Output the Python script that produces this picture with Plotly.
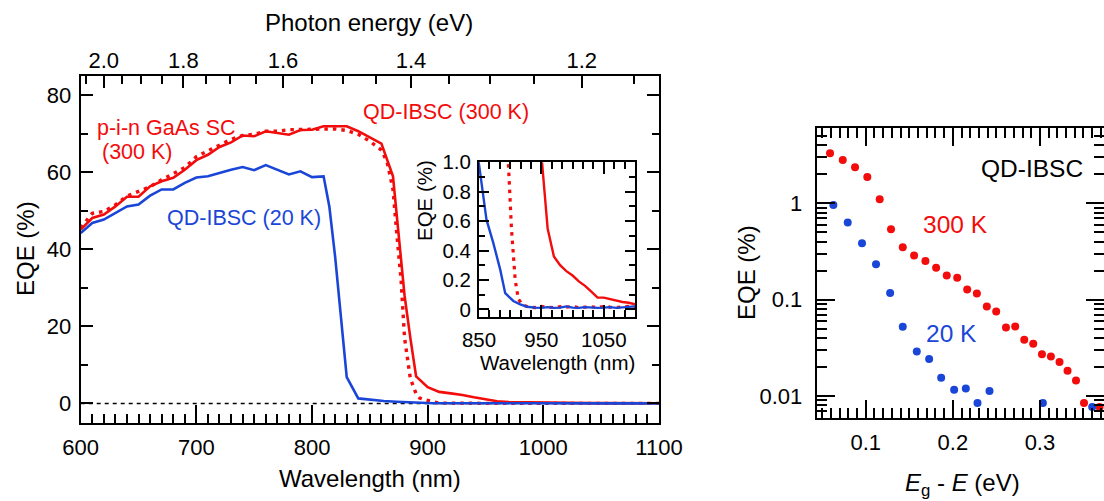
import plotly.graph_objects as go

FONT = "Liberation Sans, Arial, sans-serif"
RED = "#f20c0c"
BLUE = "#1a46d8"
W, H = 1104, 501

# ---------------- main panel: EQE spectra ----------------
wl_qd300 = [600, 610, 620, 630, 640, 650, 660, 670, 680, 690, 700, 710, 720, 730, 740, 750, 760, 770,
            780, 790, 800, 810, 820, 830, 840, 850, 860, 870, 875, 880, 885, 890, 900, 910, 920, 930,
            940, 950, 955, 960, 970, 980, 990, 1000, 1010, 1020, 1030, 1040, 1050, 1060, 1070, 1080,
            1090, 1100]
eqe_qd300 = [45.1, 48.1, 49.0, 51.1, 53.6, 53.6, 56.3, 57.6, 58.5, 60.6, 63.1, 64.5, 66.5, 67.7, 69.5,
             69.3, 70.6, 70.2, 69.7, 70.9, 71.0, 71.9, 71.9, 71.9, 70.6, 69.1, 67.4, 58.9, 44.0, 28.0,
             17.0, 7.0, 4.2, 3.0, 2.6, 2.2, 1.6, 1.05, 0.8, 0.55, 0.36, 0.30, 0.26, 0.23, 0.19, 0.16,
             0.12, 0.08, 0.08, 0.07, 0.057, 0.05, 0.045, 0.034]

wl_gaas = [600, 610, 620, 630, 640, 650, 660, 670, 680, 690, 700, 710, 720, 730, 740, 750, 760, 770,
           780, 790, 800, 810, 820, 830, 840, 850, 860, 865, 870, 873, 877, 880, 885, 890, 893, 897,
           902, 908, 913, 920, 930, 940, 950, 960, 970, 980, 990, 1000, 1010, 1020, 1030, 1040, 1050,
           1060, 1070, 1080, 1090, 1100]
eqe_gaas = [45.5, 49.3, 49.8, 51.5, 53.8, 55.0, 56.2, 58.0, 59.5, 61.2, 64.0, 65.5, 67.0, 68.5, 69.5,
            69.8, 70.6, 70.6, 71.0, 71.1, 71.2, 71.2, 71.2, 70.8, 69.8, 68.0, 65.7, 62.5, 55.5, 45.0,
            32.0, 17.0, 6.5, 2.5, 1.4, 1.0, 0.55, 0.2, 0.07, 0.03, 0.015, 0.012, 0.02, 0.015, 0.012,
            0.018, 0.015, 0.02, 0.012, 0.015, 0.018, 0.012, 0.02, 0.015, 0.012, 0.018, 0.02, 0.015]

wl_qd20 = [600, 610, 620, 630, 640, 650, 660, 670, 680, 690, 700, 710, 720, 730, 740, 750, 760, 770,
           780, 790, 800, 810, 815, 820, 825, 830, 840, 852, 862, 873, 884, 892, 905, 916, 927, 940,
           950, 960, 970, 980, 990, 1000, 1010, 1020, 1030, 1040, 1050, 1060, 1070, 1080, 1090, 1100]
eqe_qd20 = [44.2, 46.8, 47.7, 49.4, 51.1, 51.6, 53.9, 55.5, 55.5, 57.2, 58.6, 58.9, 59.8, 60.6, 61.3,
            60.5, 61.8, 60.6, 59.4, 60.2, 58.7, 58.9, 51.0, 38.0, 22.0, 6.8, 1.3, 0.92, 0.61, 0.45,
            0.27, 0.11, 0.057, 0.034, 0.018, 0.012, 0.01, 0.015, 0.01, 0.012, 0.02, 0.012, 0.01,
            0.015, 0.012, 0.01, 0.012, 0.015, 0.01, 0.012, 0.015, 0.02]

wl_ticks = [600, 700, 800, 900, 1000, 1100]
eqe_ticks = [0, 20, 40, 60, 80]
energy_major = [2.0, 1.8, 1.6, 1.4, 1.2]
energy_major_text = ["2.0", "1.8", "1.6", "1.4", "1.2"]
energy_minor = [2.05, 1.95, 1.9, 1.85, 1.75, 1.7, 1.65, 1.55, 1.5, 1.45, 1.35, 1.3, 1.25, 1.15]
HC = 1239.84  # eV nm

inset_wl_ticks = [850, 950, 1050]
inset_eqe_ticks = [0, 0.2, 0.4, 0.6, 0.8, 1.0]
inset_eqe_text = ["0", "0.2", "0.4", "0.6", "0.8", "1.0"]

# ---------------- right panel: sub-gap EQE ----------------
de_300 = [0.059, 0.0736, 0.0877, 0.1018, 0.116, 0.129, 0.1425, 0.1555, 0.1685, 0.1808, 0.193, 0.205,
          0.2165, 0.2276, 0.239, 0.2498, 0.261, 0.2716, 0.282, 0.2923, 0.3023, 0.3126, 0.3225,
          0.3317, 0.3414, 0.3506, 0.3685]
eqe_300 = [3.3, 2.81, 2.36, 1.87, 1.10, 0.538, 0.350, 0.286, 0.251, 0.214, 0.178, 0.169, 0.127, 0.116,
           0.0849, 0.0753, 0.0514, 0.0526, 0.0383, 0.0348, 0.0272, 0.0257, 0.0225, 0.0183, 0.0145,
           0.00846, 0.00769]
de_20 = [0.0628, 0.0793, 0.0957, 0.1118, 0.128, 0.1425, 0.1586, 0.1728, 0.1866, 0.2015, 0.2149,
         0.2283, 0.2421, 0.3034, 0.360]
eqe_20 = [0.96, 0.63, 0.385, 0.233, 0.117, 0.0523, 0.029, 0.0242, 0.0155, 0.01163, 0.0120, 0.00846,
          0.01127, 0.00846, 0.00769]
log_ticks = [0.01, 0.1, 1]
log_ticks_text = ["0.01", "0.1", "1"]
log_minor = [m * 10.0 ** k for k in (-3, -2, -1, 0) for m in range(2, 10)]


def px(x):
    return x / W


def py(y):
    return 1 - y / H


fig = go.Figure()

# main panel
fig.add_trace(go.Scatter(x=wl_qd300, y=eqe_qd300, mode="lines", line=dict(color=RED, width=2.6),
                         xaxis="x", yaxis="y", showlegend=False))
fig.add_trace(go.Scatter(x=wl_gaas, y=eqe_gaas, mode="lines",
                         line=dict(color=RED, width=3.4, dash="3.5px,5px"),
                         xaxis="x", yaxis="y", showlegend=False))
fig.add_trace(go.Scatter(x=wl_qd20, y=eqe_qd20, mode="lines", line=dict(color=BLUE, width=2.6),
                         xaxis="x", yaxis="y", showlegend=False))
# carrier for the top photon-energy axis (invisible copy of a series)
fig.add_trace(go.Scatter(x=wl_qd300, y=eqe_qd300, mode="lines", line=dict(color=RED, width=1),
                         opacity=0, hoverinfo="skip", xaxis="x2", yaxis="y", showlegend=False))
# inset (same series, zoomed)
fig.add_trace(go.Scatter(x=wl_qd300, y=eqe_qd300, mode="lines", line=dict(color=RED, width=2.4),
                         xaxis="x4", yaxis="y4", showlegend=False))
fig.add_trace(go.Scatter(x=wl_gaas, y=eqe_gaas, mode="lines",
                         line=dict(color=RED, width=3.2, dash="3.5px,5px"),
                         xaxis="x4", yaxis="y4", showlegend=False))
fig.add_trace(go.Scatter(x=wl_qd20, y=eqe_qd20, mode="lines", line=dict(color=BLUE, width=2.4),
                         xaxis="x4", yaxis="y4", showlegend=False))
# right panel
fig.add_trace(go.Scatter(x=de_300, y=eqe_300, mode="markers", marker=dict(color=RED, size=8),
                         xaxis="x3", yaxis="y3", showlegend=False))
fig.add_trace(go.Scatter(x=de_20, y=eqe_20, mode="markers", marker=dict(color=BLUE, size=8),
                         xaxis="x3", yaxis="y3", showlegend=False))

tickfont = dict(family=FONT, size=22, color="black")
inset_font = dict(family=FONT, size=20.5, color="black")
common = dict(showgrid=False, zeroline=False, showline=True, linecolor="black", linewidth=2,
              ticks="inside", tickcolor="black", tickwidth=2, automargin=False)

fig.update_layout(
    width=W, height=H, margin=dict(l=0, r=0, t=0, b=0, pad=0, autoexpand=False),
    autosize=False,
    paper_bgcolor="white", plot_bgcolor="white",
    font=dict(family=FONT, color="black"),
    xaxis=dict(**common, domain=[px(80.7), px(659)], range=[600, 1100], anchor="y",
               tickmode="array", tickvals=wl_ticks, ticklen=18, mirror=True,
               minor=dict(dtick=10, tick0=600, ticks="inside", ticklen=9, tickwidth=1.5,
                          tickcolor="black", showgrid=False),
               tickfont=tickfont, ticklabelstandoff=4),
    xaxis2=dict(showgrid=False, zeroline=False, showline=False, overlaying="x", side="top",
                anchor="y", range=[600, 1100], tickmode="array", automargin=False,
                tickvals=[HC / e for e in energy_major], ticktext=energy_major_text,
                ticks="inside", ticklen=12, tickwidth=2, tickcolor="black",
                minor=dict(tickmode="array", tickvals=[HC / e for e in energy_minor],
                           ticks="inside", ticklen=8, tickwidth=1.5, tickcolor="black",
                           showgrid=False),
                tickfont=tickfont, ticklabelstandoff=2),
    yaxis=dict(**common, domain=[py(422.7), py(75.7)], range=[-5, 85], anchor="x",
               tickmode="array", tickvals=eqe_ticks, ticklen=12, mirror="ticks",
               minor=dict(dtick=10, tick0=0, ticks="inside", ticklen=7, tickwidth=1.5,
                          tickcolor="black", showgrid=False),
               tickfont=tickfont, ticklabelstandoff=3),
    xaxis4=dict(**common, domain=[px(479), px(635)], range=[850, 1100], anchor="y4",
                tickmode="array", tickvals=inset_wl_ticks, ticklen=12, mirror="ticks",
                minor=dict(dtick=50 / 3, tick0=850, ticks="inside", ticklen=7, tickwidth=1.5,
                           tickcolor="black", showgrid=False),
                tickfont=inset_font, ticklabelstandoff=4),
    yaxis4=dict(**common, domain=[py(316.7), py(162.3)], range=[-0.05, 1.0], anchor="x4",
                tickmode="array", tickvals=inset_eqe_ticks, ticktext=inset_eqe_text,
                ticklen=10, mirror="ticks",
                minor=dict(dtick=0.1, tick0=0, ticks="inside", ticklen=6, tickwidth=1.5,
                           tickcolor="black", showgrid=False),
                tickfont=inset_font, ticklabelstandoff=2),
    xaxis3=dict(**common, domain=[px(816.7), 1.0], range=[0.04368, 0.37356], anchor="y3",
                tickmode="array", tickvals=[0.1, 0.2, 0.3], ticktext=["0.1", "0.2", "0.3"],
                ticklen=18, mirror="ticks",
                minor=dict(dtick=0.01, tick0=0, ticks="inside", ticklen=10, tickwidth=1.5,
                           tickcolor="black", showgrid=False),
                tickfont=tickfont, ticklabelstandoff=3),
    yaxis3=dict(**common, domain=[py(418.3), py(128.3)], type="log", range=[-2.231, 0.777],
                anchor="x3", tickmode="array", tickvals=log_ticks, ticktext=log_ticks_text,
                ticklen=18, mirror="ticks",
                minor=dict(tickmode="array", tickvals=log_minor, ticks="inside", ticklen=10,
                           tickwidth=1.5, tickcolor="black", showgrid=False),
                tickfont=tickfont, ticklabelstandoff=8),
)

# dashed zero reference line in main panel
fig.add_shape(type="line", xref="x domain", yref="y", x0=0, x1=1, y0=0, y1=0,
              line=dict(color="black", width=1.5, dash="4px,4px"), layer="below")


def ann(text, x, y, size, color="black", xanchor="center", angle=0):
    fig.add_annotation(text=text, x=px(x), y=py(y), xref="paper", yref="paper",
                       xanchor=xanchor, yanchor="middle", showarrow=False, textangle=angle,
                       font=dict(family=FONT, size=size, color=color))


ann("Photon energy (eV)", 369, 22, 24)
ann("Wavelength (nm)", 370, 478, 24)
ann("EQE (%)", 25, 249, 24, angle=-90)
ann("EQE (%)", 425, 201, 20.5, angle=-90)
ann("Wavelength (nm)", 557, 362, 20.5)
ann("p-i-n GaAs SC", 95, 128, 21.5, RED, "left")
ann("(300 K)", 100, 152, 21.5, RED, "left")
ann("QD-IBSC (300 K)", 361, 112, 21.5, RED, "left")
ann("QD-IBSC (20 K)", 165, 218, 21.5, BLUE, "left")
ann("QD-IBSC", 1085, 168, 24.5, "black", "right")
ann("300 K", 955, 224, 24.5, RED)
ann("20 K", 951, 333, 24.5, BLUE)
ann("EQE (%)", 746, 273, 24, angle=-90)
ann("<i>E</i><sub>g</sub> - <i>E</i> (eV)", 962, 484, 24)

fig.write_html("out.html")
